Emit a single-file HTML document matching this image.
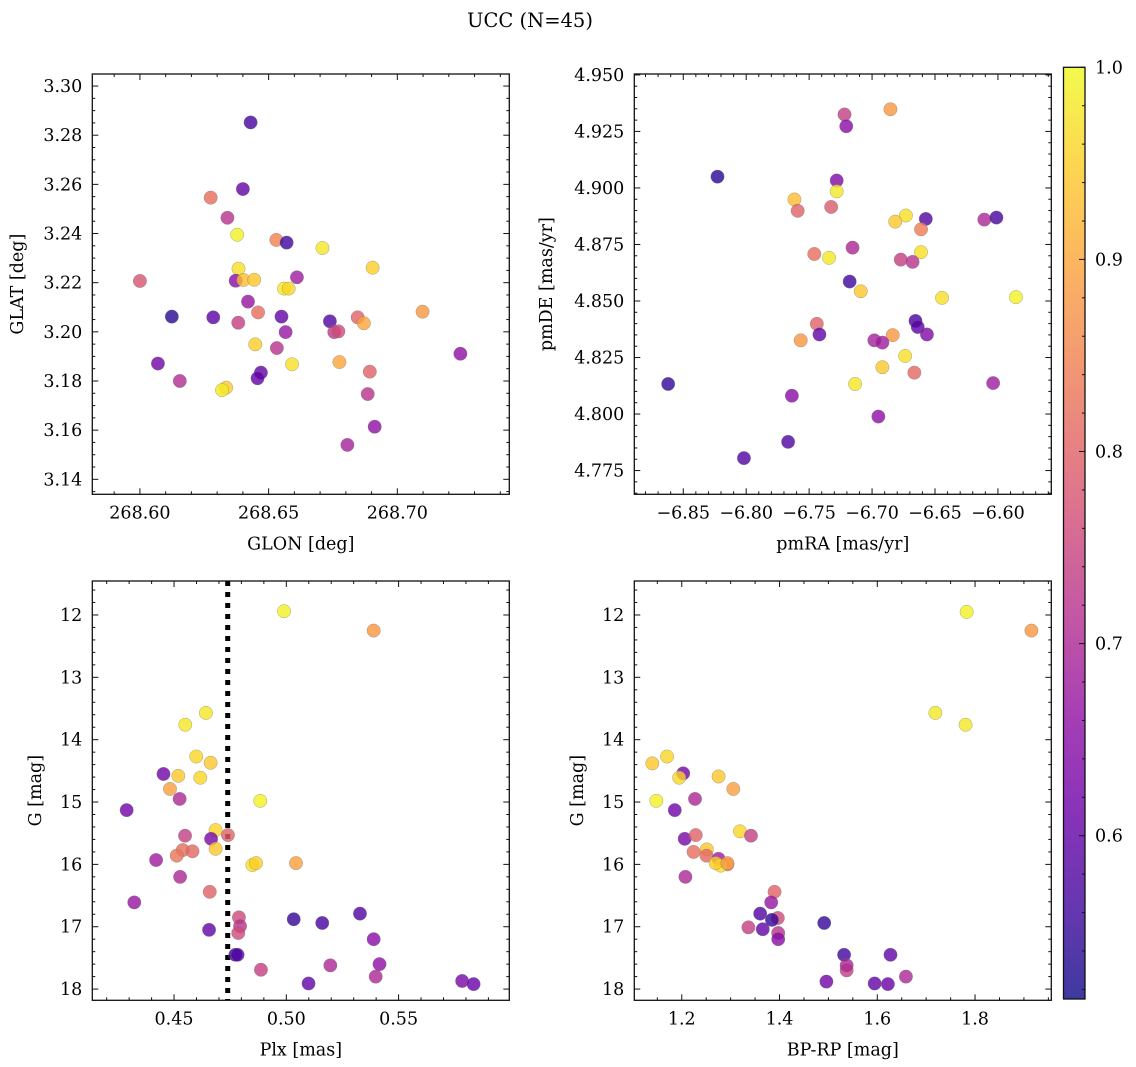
<!DOCTYPE html>
<html><head><meta charset="utf-8"><title>UCC (N=45)</title>
<style>
html,body{margin:0;padding:0;background:#fff;}
svg{display:block;font-family:"DejaVu Serif","Liberation Serif",serif;}
</style></head>
<body>
<svg id="fig" width="1136" height="1067" viewBox="0 0 1136 1067" xmlns="http://www.w3.org/2000/svg">
<text x="530" y="27" font-size="19.5" text-anchor="middle">UCC (N=45)</text>
</svg>
<script>
// ---------- data ----------
const glon = [268.643,268.640,268.6275,268.634,268.6378,268.653,268.657,268.6709,268.6383,268.6904,268.600,268.6372,268.6402,268.6444,268.661,268.656,268.6578,268.642,268.6459,268.6124,268.6285,268.655,268.7098,268.6382,268.6738,268.6846,268.687,268.6566,268.6755,268.6771,268.6448,268.6532,268.6591,268.6775,268.7245,268.607,268.6155,268.647,268.6457,268.6335,268.6319,268.6893,268.6885,268.6912,268.6806];
const glat = [3.2852,3.2581,3.2546,3.2464,3.2395,3.2374,3.2363,3.2341,3.2257,3.2261,3.2207,3.2208,3.2211,3.2212,3.2222,3.2176,3.2176,3.2123,3.2079,3.2062,3.2059,3.2062,3.2082,3.2037,3.2043,3.2059,3.2035,3.1999,3.1999,3.2002,3.1949,3.1934,3.1868,3.1877,3.1911,3.1871,3.180,3.1834,3.1811,3.1773,3.1763,3.1838,3.1747,3.1614,3.154];
const probA = [0.57,0.6,0.82,0.72,0.99,0.85,0.56,0.98,0.97,0.95,0.78,0.65,0.93,0.94,0.68,0.98,0.96,0.67,0.82,0.54,0.59,0.6,0.88,0.74,0.58,0.8,0.9,0.67,0.73,0.76,0.95,0.72,0.97,0.9,0.66,0.62,0.71,0.6,0.6,0.95,0.98,0.8,0.72,0.66,0.69];

const pmra = [-6.6854,-6.7219,-6.7205,-6.8228,-6.7281,-6.7281,-6.7617,-6.7591,-6.7325,-6.6731,-6.6816,-6.6573,-6.6611,-6.6108,-6.6012,-6.7155,-6.7459,-6.7342,-6.6611,-6.6772,-6.6678,-6.7178,-6.709,-6.6444,-6.5857,-6.7439,-6.7418,-6.7567,-6.6655,-6.6637,-6.6564,-6.6836,-6.6982,-6.6918,-6.6737,-6.6918,-6.6664,-6.7135,-6.862,-6.6038,-6.7637,-6.695,-6.7667,-6.8018];
const pmde = [4.9348,4.9325,4.9273,4.905,4.9033,4.8985,4.8949,4.8899,4.8916,4.8878,4.8851,4.8863,4.8817,4.886,4.8869,4.8736,4.8708,4.8691,4.8716,4.8683,4.8673,4.8586,4.8543,4.8514,4.8517,4.8399,4.8352,4.8326,4.8412,4.8385,4.8352,4.8349,4.8326,4.8316,4.8257,4.8207,4.8183,4.8133,4.8133,4.8137,4.8081,4.7989,4.7877,4.7805];
const probB = [0.88,0.74,0.65,0.54,0.64,0.98,0.93,0.8,0.79,0.97,0.94,0.58,0.84,0.7,0.57,0.7,0.82,0.98,0.97,0.74,0.72,0.56,0.94,0.97,0.99,0.8,0.6,0.88,0.57,0.59,0.64,0.88,0.69,0.68,0.97,0.94,0.81,0.98,0.55,0.68,0.65,0.66,0.58,0.58];

const plx = [0.499,0.5389,0.4642,0.455,0.4599,0.4663,0.4453,0.4519,0.4617,0.4482,0.4525,0.4884,0.4289,0.4685,0.4665,0.4549,0.474,0.4685,0.4539,0.4582,0.4512,0.442,0.4849,0.4865,0.5043,0.4527,0.4659,0.4323,0.4789,0.4794,0.4786,0.4656,0.5033,0.516,0.5328,0.5389,0.4773,0.4783,0.4887,0.5196,0.5415,0.5398,0.5099,0.5783,0.5834];
const gmagC = [11.94,12.25,13.57,13.76,14.27,14.37,14.55,14.58,14.61,14.79,14.95,14.98,15.13,15.45,15.59,15.54,15.53,15.75,15.77,15.79,15.86,15.93,16.01,15.98,15.98,16.2,16.44,16.61,16.85,16.99,17.1,17.05,16.88,16.94,16.79,17.2,17.45,17.45,17.69,17.62,17.6,17.8,17.91,17.87,17.92];
const probC = [0.99,0.88,0.98,0.98,0.96,0.94,0.62,0.94,0.96,0.89,0.7,0.99,0.62,0.96,0.63,0.74,0.8,0.94,0.82,0.81,0.83,0.68,0.97,0.95,0.89,0.7,0.8,0.67,0.76,0.72,0.76,0.6,0.55,0.57,0.58,0.65,0.56,0.58,0.74,0.7,0.66,0.7,0.6,0.63,0.61];
const plxMedian = [0.4739];

const bprp = [1.7828,1.9154,1.7188,1.7806,1.1699,1.1398,1.203,1.2753,1.1947,1.3054,1.2271,1.148,1.1857,1.319,1.206,1.3416,1.2286,1.2512,1.2241,1.2505,1.2934,1.2753,1.2798,1.2693,1.2934,1.2075,1.3898,1.383,1.3965,1.3973,1.3363,1.3657,1.3845,1.4914,1.3604,1.3973,1.5321,1.627,1.5373,1.5373,1.6586,1.4959,1.5946,1.6217];
const gmagD = [11.95,12.25,13.57,13.76,14.27,14.38,14.54,14.59,14.61,14.79,14.95,14.98,15.13,15.47,15.59,15.54,15.53,15.76,15.8,15.86,16.0,15.91,16.02,15.98,15.98,16.2,16.44,16.61,16.86,17.1,17.01,17.04,16.89,16.94,16.79,17.2,17.45,17.45,17.7,17.62,17.8,17.88,17.91,17.92];
const probD = [0.99,0.88,0.98,0.98,0.96,0.94,0.62,0.94,0.96,0.89,0.7,0.99,0.62,0.96,0.63,0.74,0.8,0.94,0.82,0.81,0.83,0.68,0.97,0.95,0.89,0.7,0.8,0.67,0.76,0.72,0.74,0.6,0.55,0.55,0.58,0.65,0.56,0.6,0.74,0.7,0.7,0.62,0.6,0.61];

const ticksGlon = [268.60,268.65,268.70];
const ticksGlat = [3.14,3.16,3.18,3.20,3.22,3.24,3.26,3.28,3.30];
const ticksPmra = [-6.85,-6.80,-6.75,-6.70,-6.65,-6.60];
const ticksPmde = [4.775,4.800,4.825,4.850,4.875,4.900,4.925,4.950];
const ticksPlx = [0.45,0.50,0.55];
const ticksG = [12,13,14,15,16,17,18];
const ticksBprp = [1.2,1.4,1.6,1.8];
const ticksCbar = [0.6,0.7,0.8,0.9,1.0];

// ---------- drawing ----------
const NS="http://www.w3.org/2000/svg";
const svg=document.getElementById('fig');
const VMIN=0.515, VMAX=1.0;
const stops=[[13,8,135],[65,4,157],[106,0,168],[143,13,164],[177,42,144],[204,71,120],[225,100,98],[242,132,75],[252,166,54],[252,206,37],[240,249,33]];
function plasma(t){t=Math.max(0,Math.min(1,t));const f=t*10,i=Math.min(9,Math.floor(f)),u=f-i;const a=stops[i],b=stops[i+1];
return 'rgb('+a.map((v,k)=>Math.round(v+(b[k]-v)*u)).join(',')+')';}
function el(tag,attrs,parent){const e=document.createElementNS(NS,tag);for(const k in attrs)e.setAttribute(k,attrs[k]);(parent||svg).appendChild(e);return e;}
function fmt(v,d){return v<0?'\u2212'+Math.abs(v).toFixed(d):v.toFixed(d);}
const TFS=17.5, LFS=17.5;

function panel(cfg){
  const g=el('g',{});
  
  
  const {x0,x1,y0,y1,xmin,xmax,ymin,ymax,inv}=cfg;
  const sx=v=>x0+(v-xmin)/(xmax-xmin)*(x1-x0);
  const sy=v=>inv? y0+(v-ymin)/(ymax-ymin)*(y1-y0) : y1-(v-ymin)/(ymax-ymin)*(y1-y0);
  if(cfg.vline){const l=el('line',{x1:sx(cfg.vline[0]),x2:sx(cfg.vline[0]),y1:y0,y2:y1,stroke:'#000','stroke-width':5,'stroke-dasharray':'5,6'},g);
    
    }
  const pg=el('g',{},g);
  
  
  for(let i=0;i<cfg.xs.length;i++){
    const c=el('circle',{cx:sx(cfg.xs[i]),cy:sy(cfg.ys[i]),r:6.7,fill:plasma((cfg.cs[i]-VMIN)/(VMAX-VMIN)),'fill-opacity':0.8,stroke:'#777','stroke-width':0.4,'stroke-opacity':0.8},pg);
    
    
  }
  el('rect',{x:x0,y:y0,width:x1-x0,height:y1-y0,fill:'none',stroke:'#111','stroke-width':1.3},g);
  const mi=cfg.xminor;
  for(let v=Math.ceil(xmin/mi-1e-6)*mi; v<=xmax+1e-9; v+=mi){
    const X=sx(v);const maj=Math.abs(Math.round(v/cfg.xmaj)*cfg.xmaj-v)<mi/3;const L=maj?6:3;
    el('line',{x1:X,x2:X,y1:y1,y2:y1-L,stroke:'#111','stroke-width':1},g);
    el('line',{x1:X,x2:X,y1:y0,y2:y0+L,stroke:'#111','stroke-width':1},g);
  }
  const ymi=cfg.yminor;
  for(let v=Math.ceil(ymin/ymi-1e-6)*ymi; v<=ymax+1e-9; v+=ymi){
    const Y=sy(v);const maj=Math.abs(Math.round(v/cfg.ymaj)*cfg.ymaj-v)<ymi/3;const L=maj?6:3;
    el('line',{x1:x0,x2:x0+L,y1:Y,y2:Y,stroke:'#111','stroke-width':1},g);
    el('line',{x1:x1,x2:x1-L,y1:Y,y2:Y,stroke:'#111','stroke-width':1},g);
  }
  cfg.xt.forEach(v=>{const t=el('text',{x:sx(v),y:y1+24,'font-size':TFS,'text-anchor':'middle'},g);t.textContent=fmt(v,cfg.xd);
    
    });
  cfg.yt.forEach(v=>{const t=el('text',{x:x0-10,y:sy(v)+6,'font-size':TFS,'text-anchor':'end'},g);t.textContent=fmt(v,cfg.yd);
    
    });
  const xl=el('text',{x:(x0+x1)/2,y:y1+55,'font-size':LFS,'text-anchor':'middle'},g);xl.textContent=cfg.xlabel;
  
  
  const ylx=cfg.ylx, yly=(y0+y1)/2;
  const yl=el('text',{x:ylx,y:yly,'font-size':LFS,'text-anchor':'middle',transform:'rotate(-90 '+ylx+' '+yly+')'},g);yl.textContent=cfg.ylabel;
  
  
}

panel({name:'panel-glon-glat',x0:92.3,x1:509.3,y0:74,y1:494.3,xmin:268.5815,xmax:268.7435,ymin:3.1339,ymax:3.3049,
  xs:glon,ys:glat,cs:probA,xt:ticksGlon,yt:ticksGlat,xd:2,yd:2,xminor:0.01,xmaj:0.05,yminor:0.005,ymaj:0.02,xlabel:'GLON [deg]',ylabel:'GLAT [deg]',ylx:23});
panel({name:'panel-pmra-pmde',x0:634.3,x1:1051.3,y0:74,y1:494.3,xmin:-6.8889,xmax:-6.5576,ymin:4.7645,ymax:4.9504,
  xs:pmra,ys:pmde,cs:probB,xt:ticksPmra,yt:ticksPmde,xd:2,yd:3,xminor:0.01,xmaj:0.05,yminor:0.005,ymaj:0.025,xlabel:'pmRA [mas/yr]',ylabel:'pmDE [mas/yr]',ylx:552});
panel({name:'panel-plx-g',x0:92.3,x1:509.3,y0:581,y1:1000.3,xmin:0.4136,xmax:0.5993,ymin:11.455,ymax:18.18,inv:true,vline:plxMedian,
  xs:plx,ys:gmagC,cs:probC,xt:ticksPlx,yt:ticksG,xd:2,yd:0,xminor:0.01,xmaj:0.05,yminor:0.2,ymaj:1,xlabel:'Plx [mas]',ylabel:'G [mag]',ylx:41});
panel({name:'panel-bprp-g',x0:634.3,x1:1051.3,y0:581,y1:1000.3,xmin:1.1029,xmax:1.956,ymin:11.455,ymax:18.18,inv:true,
  xs:bprp,ys:gmagD,cs:probD,xt:ticksBprp,yt:ticksG,xd:1,yd:0,xminor:0.05,xmaj:0.2,yminor:0.2,ymaj:1,xlabel:'BP-RP [mag]',ylabel:'G [mag]',ylx:583});

(function(){
  const cx0=1063.5,cx1=1085,cy0=67.3,cy1=999;
  const g=el('g',{});
  
  
  const defs=el('defs',{},g);
  const lg=el('linearGradient',{id:'cbg',x1:0,y1:1,x2:0,y2:0},defs);
  for(let k=0;k<=10;k++){el('stop',{offset:(k*10)+'%','stop-color':plasma(k/10),'stop-opacity':0.8},lg);}
  el('rect',{x:cx0,y:cy0,width:cx1-cx0,height:cy1-cy0,fill:'url(#cbg)',stroke:'#111','stroke-width':1.3},g);
  const sy=v=>cy1-(v-VMIN)/(VMAX-VMIN)*(cy1-cy0);
  for(let v=0.52;v<=1.0001;v+=0.02){const Y=sy(v);const maj=Math.abs(Math.round(v*10)/10-v)<0.005;
    el('line',{x1:cx1,x2:cx1-(maj?6:3),y1:Y,y2:Y,stroke:'#111','stroke-width':1},g);}
  ticksCbar.forEach(v=>{const t=el('text',{x:cx1+10,y:sy(v)+6,'font-size':TFS},g);t.textContent=v.toFixed(1);
    
    });
})();
</script>
</body></html>
